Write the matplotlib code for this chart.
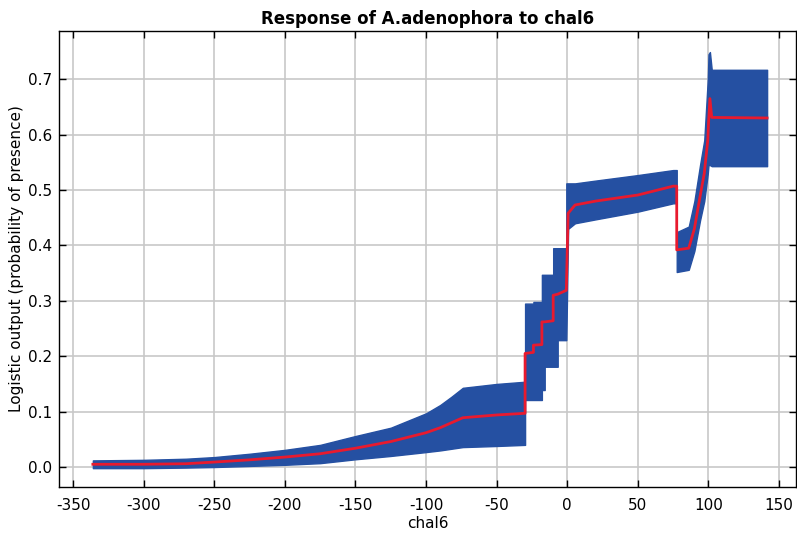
import matplotlib
matplotlib.use("Agg")
import matplotlib.pyplot as plt

plt.rcParams["axes.unicode_minus"] = False
plt.rcParams["font.family"] = "DejaVu Sans"

# chal6 values (a repeated x value means a step)
chal6 = [-336, -300, -270, -250, -225, -200, -175, -150, -125, -100, -90, -82, -74, -50,
         -29.9, -29.9, -24, -24, -18, -18, -16, -16, -10, -10, -6.8, -6.8, -0.7, -0.7,
         0.6, 5.5, 20, 50, 75, 77.5, 77.5, 86, 90, 94, 97, 99.5, 100, 101, 102.3, 141.5]
mean = [0.005, 0.005, 0.006, 0.009, 0.013, 0.018, 0.024, 0.034, 0.046, 0.062, 0.071, 0.080, 0.089, 0.094,
        0.097, 0.205, 0.207, 0.22, 0.221, 0.262, 0.262, 0.262, 0.264, 0.31, 0.312, 0.312, 0.319, 0.319,
        0.458, 0.473, 0.48, 0.491, 0.507, 0.507, 0.392, 0.395, 0.43, 0.488, 0.53, 0.59, 0.62, 0.665, 0.631, 0.63]
lower = [-0.002, -0.002, -0.001, 0.000, 0.002, 0.004, 0.007, 0.014, 0.020, 0.027, 0.030, 0.033, 0.036, 0.038,
         0.040, 0.121, 0.121, 0.121, 0.121, 0.139, 0.139, 0.181, 0.181, 0.181, 0.181, 0.229, 0.229, 0.229,
         0.43, 0.44, 0.447, 0.461, 0.476, 0.476, 0.352, 0.356, 0.39, 0.445, 0.48, 0.53, 0.545, 0.545, 0.543, 0.543]
upper = [0.012, 0.013, 0.015, 0.018, 0.024, 0.031, 0.040, 0.056, 0.071, 0.097, 0.112, 0.127, 0.143, 0.150,
         0.154, 0.295, 0.295, 0.298, 0.298, 0.347, 0.347, 0.347, 0.347, 0.395, 0.395, 0.395, 0.395, 0.512,
         0.512, 0.512, 0.517, 0.527, 0.536, 0.536, 0.424, 0.434, 0.48, 0.545, 0.59, 0.70, 0.745, 0.749, 0.717, 0.717]

xticks = [-350, -300, -250, -200, -150, -100, -50, 0, 50, 100, 150]
yticks = [0.0, 0.1, 0.2, 0.3, 0.4, 0.5, 0.6, 0.7]

fig = plt.figure(figsize=(7.97, 5.42), dpi=100)
ax = fig.add_axes([0.074, 0.1015, 0.9248, 0.8413])

ax.fill_between(chal6, lower, upper, color="#2550a2", linewidth=1.0, edgecolor="#2550a2", zorder=2)
ax.plot(chal6, mean, color="#e81a2e", linewidth=2, zorder=3)

ax.set_xlim(-360, 162)
ax.set_ylim(-0.036, 0.787)
ax.set_xticks(xticks)
ax.set_yticks(yticks)
ax.set_yticklabels([f"{v:.1f}" for v in yticks])
ax.grid(True, color="#c8c8c8", linewidth=1.2, zorder=0)
ax.set_axisbelow(True)

ax.tick_params(direction="in", length=5, width=1, top=True, right=True,
               labelsize=11, colors="black")
ax.tick_params(axis="x", pad=8)
ax.tick_params(axis="y", pad=5)
for s in ax.spines.values():
    s.set_linewidth(1)

ax.set_title("Response of A.adenophora to chal6", fontsize=12, fontweight="bold", pad=5)
ax.set_xlabel("chal6", fontsize=11, labelpad=2)
ax.set_ylabel("Logistic output (probability of presence)", fontsize=11, labelpad=3)

fig.savefig("out.png", dpi=100)
